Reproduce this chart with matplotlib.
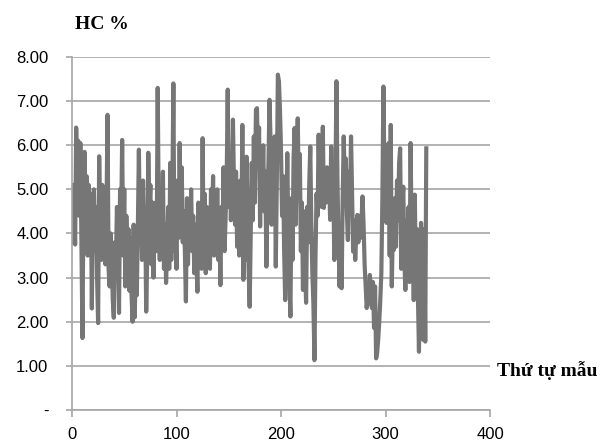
import matplotlib
matplotlib.use("Agg")
import matplotlib.pyplot as plt
import numpy as np

# HC % tung mau, doc tu hinh (340 mau)
hc = [
    5.10, 3.80, 4.60, 3.75, 6.40, 5.20, 6.10, 4.40, 6.05, 3.90, 1.63, 4.80, 5.85, 4.30, 5.30, 3.50, 5.10, 4.00, 4.90, 2.30,
    4.70, 5.00, 3.60, 4.60, 3.00, 1.97, 5.75, 4.20, 3.40, 5.10, 3.50, 4.10, 3.30, 4.50, 6.69, 3.20, 2.80, 4.00, 3.50, 2.50,
    2.09, 3.80, 3.30, 4.60, 3.70, 2.20, 5.00, 4.20, 6.12, 3.50, 5.00, 2.80, 4.40, 3.40, 4.10, 2.70, 3.90, 2.60, 2.00, 4.20,
    2.10, 3.20, 2.60, 4.10, 5.90, 4.00, 4.80, 3.40, 5.20, 3.80, 4.60, 2.23, 3.50, 5.83, 4.50, 5.10, 3.30, 4.70, 3.00, 4.40,
    4.70, 3.60, 7.30, 4.50, 3.40, 4.90, 3.70, 5.40, 3.20, 4.20, 2.88, 3.60, 4.60, 3.20, 5.60, 3.40, 4.80, 7.40, 3.60, 4.20,
    3.20, 5.20, 3.90, 6.05, 4.30, 5.50, 3.80, 4.50, 3.60, 2.46, 4.80, 3.30, 4.60, 3.90, 5.00, 3.60, 4.40, 3.10, 4.20, 3.50,
    2.68, 4.70, 3.80, 4.30, 3.20, 6.16, 3.40, 4.90, 3.10, 4.60, 3.70, 4.10, 3.20, 5.00, 4.30, 5.30, 3.50, 4.80, 3.60, 5.00,
    3.40, 4.20, 2.83, 4.60, 3.90, 5.50, 3.60, 4.40, 5.20, 7.26, 4.60, 5.60, 4.30, 4.90, 6.58, 5.10, 4.20, 5.40, 3.70, 4.60,
    3.50, 5.20, 3.80, 6.46, 2.95, 4.10, 3.40, 5.74, 4.60, 3.20, 2.34, 3.90, 5.60, 4.30, 6.20, 4.70, 6.80, 6.84, 5.50, 6.40,
    4.16, 5.90, 4.80, 6.00, 4.50, 5.40, 3.25, 4.90, 5.60, 7.03, 6.10, 4.20, 5.80, 4.60, 6.20, 3.25, 5.20, 7.60, 7.45, 6.80,
    5.90, 4.40, 5.30, 3.60, 2.49, 4.20, 5.82, 3.90, 2.90, 2.12, 4.80, 3.40, 5.70, 6.39, 4.20, 5.50, 6.61, 4.90, 5.80, 3.60,
    4.70, 2.72, 4.50, 3.30, 2.43, 4.60, 3.80, 5.10, 5.97, 4.20, 3.10, 2.40, 1.13, 3.50, 4.90, 4.40, 6.24, 4.80, 5.60, 4.60,
    6.42, 4.58, 5.20, 4.70, 5.50, 4.90, 5.30, 4.31, 5.97, 4.60, 5.10, 3.40, 4.90, 7.45, 5.20, 3.90, 2.80, 3.60, 2.76, 4.80,
    6.20, 5.10, 5.70, 4.50, 3.85, 5.40, 4.60, 6.20, 4.90, 3.59, 4.30, 3.40, 4.00, 4.42, 3.80, 4.40, 3.90, 4.30, 4.84, 4.20,
    3.30, 2.80, 2.31, 2.60, 2.40, 3.06, 2.80, 2.31, 2.90, 1.86, 2.80, 1.17, 1.30, 1.60, 2.00, 2.49, 3.10, 4.80, 7.33, 5.20,
    6.00, 4.24, 5.60, 6.05, 3.50, 6.46, 2.80, 4.20, 3.63, 4.80, 3.70, 5.20, 4.30, 5.60, 5.93, 3.20, 4.60, 5.06, 3.40, 2.72,
    4.30, 3.50, 4.60, 2.90, 6.05, 3.80, 4.40, 2.49, 4.88, 3.20, 4.10, 2.60, 1.32, 3.40, 4.24, 2.20, 1.59, 4.10, 1.55, 5.93,
]
stt = np.arange(len(hc))

y_ticks = [0, 1, 2, 3, 4, 5, 6, 7, 8]
y_labels = ["-", "1.00", "2.00", "3.00", "4.00", "5.00", "6.00", "7.00", "8.00"]
x_ticks = [0, 100, 200, 300, 400]

fig = plt.figure(figsize=(6.02, 4.47), dpi=100)
ax = fig.add_axes([0.1196, 0.0828, 0.6944, 0.7897])

ax.plot(stt, hc, color="#767676", lw=3.0, solid_joinstyle="round")

ax.set_xlim(0, 400)
ax.set_ylim(0, 8)
ax.set_yticks(y_ticks)
ax.set_yticklabels(y_labels)
ax.set_xticks(x_ticks)

ax.yaxis.grid(True, color="#a6a6a6", lw=1.2)
ax.set_axisbelow(True)
for s in ["top", "right"]:
    ax.spines[s].set_visible(False)
for s in ["left", "bottom"]:
    ax.spines[s].set_color("#a6a6a6")
    ax.spines[s].set_linewidth(1.2)

ax.tick_params(axis="y", length=4, color="#a6a6a6", width=1.2, pad=13,
               labelsize=12, labelfontfamily="Liberation Sans")
ax.tick_params(axis="x", length=5, color="#a6a6a6", width=1.2, pad=7,
               labelsize=12, labelfontfamily="Liberation Sans")

fig.text(0.124, 0.945, "HC %", fontsize=14, fontweight="bold",
         family="Liberation Serif", va="center", ha="left")
fig.text(0.826, 0.172, "Thứ tự mẫu", fontsize=14, fontweight="bold",
         family="Liberation Serif", va="center", ha="left")

plt.savefig("out.png", dpi=100)
